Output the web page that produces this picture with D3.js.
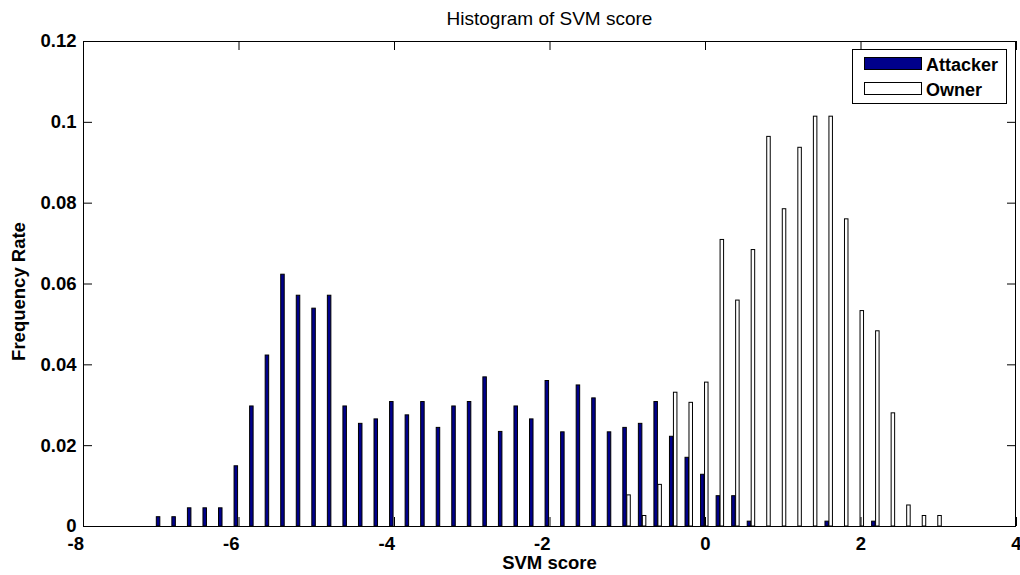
<!DOCTYPE html>
<html>
<head>
<meta charset="utf-8">
<script src="https://cdn.jsdelivr.net/npm/d3@7"></script>
<style>
  html, body { margin: 0; padding: 0; background: #fff; }
  svg { display: block; }
  text { font-family: "Liberation Sans", Arial, Helvetica, sans-serif; fill: #000; }
</style>
</head>
<body>
<svg id="chart" width="1020" height="575"></svg>
<script>
// Histogram bin centres (SVM score)
const binCenters = [
  -7.0, -6.8, -6.6, -6.4, -6.2, -6.0, -5.8, -5.6, -5.4, -5.2,
  -5.0, -4.8, -4.6, -4.4, -4.2, -4.0, -3.8, -3.6, -3.4, -3.2,
  -3.0, -2.8, -2.6, -2.4, -2.2, -2.0, -1.8, -1.6, -1.4, -1.2,
  -1.0, -0.8, -0.6, -0.4, -0.2, 0.0, 0.2, 0.4, 0.6, 0.8,
  1.0, 1.2, 1.4, 1.6, 1.8, 2.0, 2.2, 2.4, 2.6, 2.8, 3.0
];

// Frequency rate per bin, attacker samples
const attackerRate = [
  0.0023, 0.0023, 0.0045, 0.0045, 0.0045, 0.0149, 0.0297, 0.0423, 0.0623, 0.0571,
  0.0539, 0.0571, 0.0297, 0.0254, 0.0265, 0.0308, 0.0275, 0.0308, 0.0244, 0.0297,
  0.0308, 0.0369, 0.0234, 0.0297, 0.0265, 0.0360, 0.0233, 0.0349, 0.0317, 0.0233,
  0.0244, 0.0254, 0.0308, 0.0222, 0.0170, 0.0128, 0.0075, 0.0075, 0.0012, 0,
  0, 0, 0, 0.0012, 0, 0, 0.0012, 0, 0, 0, 0
];

// Frequency rate per bin, owner samples
const ownerRate = [
  0, 0, 0, 0, 0, 0, 0, 0, 0, 0,
  0, 0, 0, 0, 0, 0, 0, 0, 0, 0,
  0, 0, 0, 0, 0, 0, 0, 0, 0, 0,
  0.0077, 0.0026, 0.0103, 0.0331, 0.0306, 0.0356, 0.0709, 0.0559, 0.0684, 0.0964,
  0.0785, 0.0937, 0.1014, 0.1014, 0.0760, 0.0533, 0.0483, 0.0280, 0.0052, 0.0026, 0.0026
];

const xTicks = [-8, -6, -4, -2, 0, 2, 4];
const xTickLabels = ["-8", "-6", "-4", "-2", "0", "2", "4"];
const yTicks = [0, 0.02, 0.04, 0.06, 0.08, 0.1, 0.12];
const yTickLabels = ["0", "0.02", "0.04", "0.06", "0.08", "0.1", "0.12"];

const seriesNames = ["Attacker", "Owner"];
const seriesFill = ["#00008b", "#ffffff"];

// Layout
const W = 1020, H = 575;
const plot = { left: 83, right: 1016, top: 41, bottom: 526 };
const tickLen = 9;
const barW = 0.045;                  // bar width in score units
const barOffset = [-0.057, -0.006];  // left edge of each series bar relative to bin centre

const svg = d3.select("#chart");

const x = d3.scaleLinear().domain([-8, 4]).range([plot.left, plot.right]);
const y = d3.scaleLinear().domain([0, 0.12]).range([plot.bottom, plot.top]);

// Bars
const series = [attackerRate, ownerRate];
series.forEach((vals, si) => {
  const data = binCenters.map((c, i) => ({ c, v: vals[i] })).filter(d => d.v > 0);
  svg.append("g")
    .selectAll("rect")
    .data(data)
    .join("rect")
    .attr("x", d => x(d.c + barOffset[si]))
    .attr("width", d => x(d.c + barOffset[si] + barW) - x(d.c + barOffset[si]))
    .attr("y", d => y(d.v))
    .attr("height", d => y(0) - y(d.v))
    .attr("fill", seriesFill[si])
    .attr("stroke", "#000")
    .attr("stroke-width", 1);
});

// Axes: ticks pointing inward on all four sides
const tickFontSize = "18.5px";

const gx = svg.append("g")
  .attr("transform", `translate(0,${plot.bottom})`)
  .call(d3.axisBottom(x).tickValues(xTicks).tickSize(-tickLen).tickPadding(11)
    .tickFormat((d, i) => xTickLabels[i]));
gx.selectAll("text")
  .style("font-size", tickFontSize)
  .style("font-weight", "bold")
  .attr("text-anchor", d => d < 0 ? "end" : "middle")
  .attr("x", d => d < 0 ? 0.5 : 0);

const gxTop = svg.append("g")
  .attr("transform", `translate(0,${plot.top})`)
  .call(d3.axisTop(x).tickValues(xTicks).tickSize(-tickLen).tickFormat(""));

const gy = svg.append("g")
  .attr("transform", `translate(${plot.left},0)`)
  .call(d3.axisLeft(y).tickValues(yTicks).tickSize(-tickLen).tickPadding(6.5)
    .tickFormat((d, i) => yTickLabels[i]));
gy.selectAll("text")
  .style("font-size", tickFontSize)
  .style("font-weight", "bold");

const gyRight = svg.append("g")
  .attr("transform", `translate(${plot.right},0)`)
  .call(d3.axisRight(y).tickValues(yTicks).tickSize(-tickLen).tickFormat(""));

[gx, gxTop, gy, gyRight].forEach(g => {
  g.select(".domain").remove();
  g.selectAll(".tick line").attr("stroke", "#000").attr("stroke-width", 1);
  g.selectAll("text").style("font-family", '"Liberation Sans", Arial, Helvetica, sans-serif').attr("fill", "#000");
});

// Axes box
svg.append("rect")
  .attr("x", plot.left + 0.5)
  .attr("y", plot.top + 0.5)
  .attr("width", plot.right - plot.left - 1)
  .attr("height", plot.bottom - plot.top)
  .attr("fill", "none")
  .attr("stroke", "#000")
  .attr("stroke-width", 1);

// Title and axis labels
svg.append("text")
  .attr("x", (plot.left + plot.right) / 2)
  .attr("y", 25)
  .attr("text-anchor", "middle")
  .style("font-size", "19px")
  .text("Histogram of SVM score");

svg.append("text")
  .attr("x", (plot.left + plot.right) / 2)
  .attr("y", 569)
  .attr("text-anchor", "middle")
  .style("font-size", "18.5px")
  .style("font-weight", "bold")
  .text("SVM score");

svg.append("text")
  .attr("transform", `translate(25,${(plot.top + plot.bottom) / 2 + 8}) rotate(-90)`)
  .attr("text-anchor", "middle")
  .style("font-size", "18.5px")
  .style("font-weight", "bold")
  .text("Frequency Rate");

// Legend
const legend = svg.append("g");
legend.append("rect")
  .attr("x", 852.5).attr("y", 49.5)
  .attr("width", 154).attr("height", 54)
  .attr("fill", "#fff").attr("stroke", "#000").attr("stroke-width", 1);

seriesNames.forEach((name, i) => {
  const ry = 57.5 + i * 25;
  legend.append("rect")
    .attr("x", 864.5).attr("y", ry)
    .attr("width", 57).attr("height", 12)
    .attr("fill", seriesFill[i]).attr("stroke", "#000").attr("stroke-width", 1);
  legend.append("text")
    .attr("x", 926).attr("y", ry + 13)
    .style("font-size", "18px")
    .style("font-weight", "bold")
    .text(name);
});
</script>
</body>
</html>
